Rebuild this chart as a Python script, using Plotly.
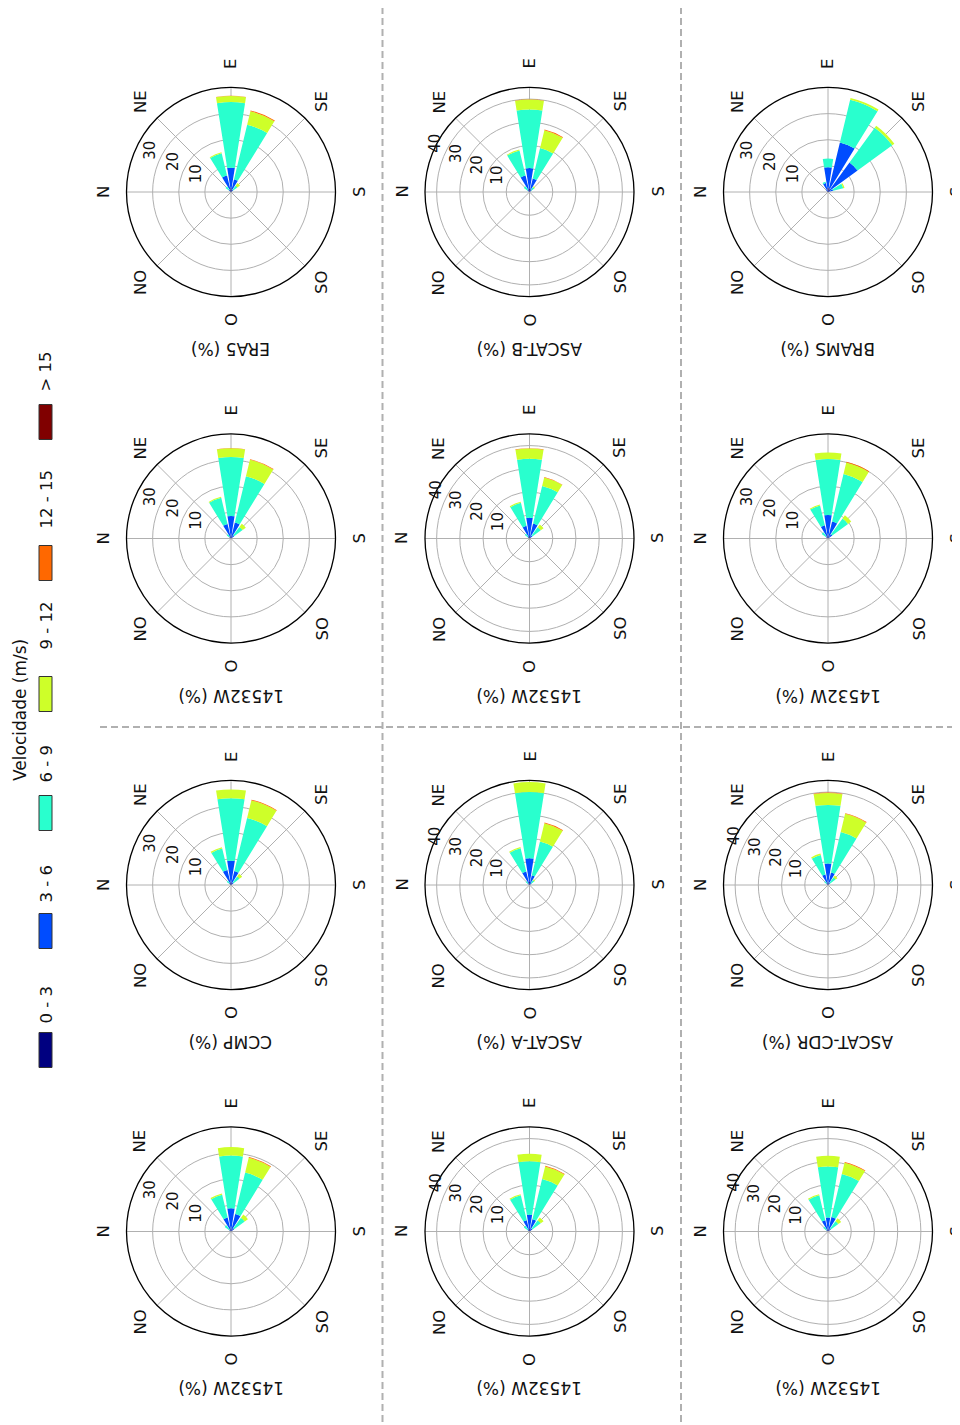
import math
import plotly.graph_objects as go

W, H = 960, 1425
PAGE_OFFSET = 8  # browser body margin

# ---------------- data ----------------
DIRECTIONS = [45, 67.5, 90, 112.5, 135, 157.5]          # NE, ENE, E, ESE, SE, SSE (degrees from N)
SPEED_BINS = ["0 - 3", "3 - 6", "6 - 9", "9 - 12", "12 - 15", "> 15"]
COLORS = ["#000080", "#004cff", "#29ffce", "#ceff29", "#ff6800", "#800000"]
COMPASS_LABELS = ["N", "NE", "E", "SE", "S", "SO", "O", "NO"]
COMPASS_BEARINGS = [0, 45, 90, 135, 180, 225, 270, 315]
LEGEND_TITLE = "Velocidade (m/s)"

# frequencies (%) per speed bin (rows) and direction (columns)
era5 = [[0.3, 1.0, 1.5, 1.0, 0.3, 0.0],
        [0.7, 5.5, 7.8, 4.0, 0.7, 0.0],
        [1.6, 8.8, 25.1, 21.5, 2.0, 0.0],
        [0.0, 0.3, 2.3, 5.3, 1.3, 0.0],
        [0.0, 0.0, 0.1, 0.3, 0.0, 0.0],
        [0.0, 0.0, 0.0, 0.0, 0.0, 0.0]]
ascat_b = [[0.3, 1.0, 1.5, 1.0, 0.3, 0.0],
           [0.7, 6.3, 8.8, 5.0, 0.7, 0.0],
           [2.0, 11.1, 25.2, 13.5, 1.5, 0.0],
           [0.0, 0.4, 4.3, 7.9, 0.5, 0.0],
           [0.0, 0.0, 0.1, 0.3, 0.0, 0.0],
           [0.0, 0.0, 0.0, 0.0, 0.0, 0.0]]
brams = [[0.3, 0.5, 1.5, 1.5, 1.0, 0.3],
         [0.5, 3.0, 8.0, 18.0, 13.0, 1.7],
         [0.0, 0.5, 3.3, 16.8, 16.4, 4.0],
         [0.0, 0.0, 0.0, 0.7, 1.0, 0.5],
         [0.0, 0.0, 0.0, 0.0, 0.0, 0.0],
         [0.0, 0.0, 0.0, 0.0, 0.0, 0.0]]
w14532_r1a = [[0.3, 0.8, 1.2, 0.8, 0.3, 0.0],
              [0.5, 4.9, 7.4, 5.5, 1.2, 0.0],
              [1.2, 10.3, 22.6, 18.2, 4.0, 0.0],
              [0.0, 0.4, 3.3, 6.5, 1.5, 0.0],
              [0.0, 0.0, 0.1, 0.2, 0.0, 0.0],
              [0.0, 0.0, 0.0, 0.0, 0.0, 0.0]]
w14532_r1b = [[0.3, 0.8, 1.2, 0.8, 0.3, 0.0],
              [0.5, 4.8, 7.7, 5.8, 1.2, 0.0],
              [1.7, 10.2, 25.4, 16.7, 4.5, 0.0],
              [0.0, 0.5, 4.4, 3.7, 1.5, 0.0],
              [0.0, 0.0, 0.2, 0.2, 0.0, 0.0],
              [0.0, 0.0, 0.0, 0.0, 0.0, 0.0]]
w14532_r1c = [[0.3, 0.8, 1.2, 0.8, 0.3, 0.0],
              [0.7, 4.4, 7.8, 5.9, 1.7, 0.0],
              [2.0, 7.8, 21.4, 18.7, 7.5, 0.0],
              [0.0, 0.4, 2.5, 4.5, 1.5, 0.0],
              [0.0, 0.0, 0.0, 0.3, 0.0, 0.0],
              [0.0, 0.0, 0.0, 0.0, 0.0, 0.0]]
ccmp = [[0.3, 0.8, 1.2, 0.8, 0.3, 0.0],
        [0.5, 5.1, 8.1, 4.7, 0.9, 0.0],
        [1.2, 8.5, 23.9, 20.9, 2.8, 0.0],
        [0.0, 0.5, 3.4, 6.9, 1.3, 0.0],
        [0.0, 0.0, 0.0, 0.3, 0.0, 0.0],
        [0.0, 0.0, 0.0, 0.0, 0.0, 0.0]]
ascat_a = [[0.3, 0.8, 1.5, 0.8, 0.3, 0.0],
           [0.5, 5.2, 10.0, 3.5, 0.7, 0.0],
           [1.2, 10.3, 28.5, 15.0, 1.5, 0.0],
           [0.0, 0.5, 4.3, 8.1, 0.5, 0.0],
           [0.0, 0.0, 0.0, 0.3, 0.0, 0.0],
           [0.0, 0.0, 0.0, 0.0, 0.0, 0.0]]
ascat_cdr = [[0.3, 0.8, 1.2, 0.8, 0.3, 0.0],
             [0.5, 3.9, 8.1, 4.7, 0.7, 0.0],
             [1.2, 8.6, 25.2, 18.0, 3.0, 0.0],
             [0.0, 0.6, 5.1, 8.0, 1.0, 0.0],
             [0.0, 0.0, 0.2, 0.3, 0.0, 0.0],
             [0.0, 0.0, 0.0, 0.0, 0.0, 0.0]]
w14532_r3a = [[0.3, 0.8, 1.2, 0.8, 0.3, 0.0],
              [0.5, 4.7, 7.7, 6.1, 1.2, 0.0],
              [2.2, 9.0, 20.2, 16.3, 5.0, 0.0],
              [0.0, 0.5, 3.2, 5.8, 1.5, 0.0],
              [0.0, 0.0, 0.0, 0.3, 0.0, 0.0],
              [0.0, 0.0, 0.0, 0.0, 0.0, 0.0]]
w14532_r3b = [[0.3, 0.8, 1.2, 0.8, 0.3, 0.0],
              [0.5, 4.2, 6.0, 4.6, 1.2, 0.0],
              [2.2, 11.0, 23.0, 17.8, 4.5, 0.0],
              [0.0, 0.5, 3.3, 5.6, 1.5, 0.0],
              [0.0, 0.0, 0.0, 0.3, 0.0, 0.0],
              [0.0, 0.0, 0.0, 0.0, 0.0, 0.0]]
w14532_r3c = [[0.3, 0.8, 1.2, 0.8, 0.3, 0.0],
              [0.5, 4.2, 4.8, 5.6, 1.2, 0.0],
              [1.7, 11.0, 22.0, 19.1, 4.0, 0.0],
              [0.0, 0.5, 4.6, 5.0, 1.5, 0.0],
              [0.0, 0.0, 0.0, 0.3, 0.0, 0.0],
              [0.0, 0.0, 0.0, 0.0, 0.0, 0.0]]

PANEL_TITLES = [["ERA5 (%)", "ASCAT-B (%)", "BRAMS (%)"],
                ["14532W (%)", "14532W (%)", "14532W (%)"],
                ["CCMP (%)", "ASCAT-A (%)", "ASCAT-CDR (%)"],
                ["14532W (%)", "14532W (%)", "14532W (%)"]]
PANEL_DATA = [[era5, ascat_b, brams],
              [w14532_r1a, w14532_r1b, w14532_r1c],
              [ccmp, ascat_a, ascat_cdr],
              [w14532_r3a, w14532_r3b, w14532_r3c]]
PANEL_RMAX = [[40, 45, 40],
              [40, 45, 40],
              [40, 45, 45],
              [40, 45, 45]]

# ---------------- layout geometry (page pixels) ----------------
COL_X = [231, 529.5, 828]
ROW_Y = [192, 538.5, 885, 1231.5]
R = 104.5
FONT = "DejaVu Sans"
TXT = "#111111"


def px(x):
    return (x - PAGE_OFFSET) / W


def py(y):
    return 1 - (y - PAGE_OFFSET) / H


fig = go.Figure()
annotations = []
shapes = []
polar_layouts = {}

k = 0
for ri, cy in enumerate(ROW_Y):
    for ci, cx in enumerate(COL_X):
        k += 1
        pname = "polar" if k == 1 else f"polar{k}"
        data = PANEL_DATA[ri][ci]
        rmax = PANEL_RMAX[ri][ci]
        for b, (lab, col) in enumerate(zip(SPEED_BINS, COLORS)):
            fig.add_trace(go.Barpolar(
                r=data[b], theta=DIRECTIONS, width=18,
                marker=dict(color=col, line=dict(width=0)),
                name=lab, showlegend=False, subplot=pname,
            ))
        ticks = [10, 20, 30] if rmax <= 40 else [10, 20, 30, 40]
        polar_layouts[pname] = dict(
            domain=dict(x=[px(cx - R), px(cx + R)], y=[py(cy + R), py(cy - R)]),
            bgcolor="white",
            barmode="stack",
            angularaxis=dict(direction="clockwise", rotation=180,
                             tickmode="array", tickvals=COMPASS_BEARINGS,
                             showticklabels=False, ticks="",
                             showgrid=True, gridcolor="#b0b0b0", gridwidth=1,
                             showline=True, linecolor="black", linewidth=1.3),
            radialaxis=dict(range=[0, rmax], tickmode="array", tickvals=ticks,
                            showticklabels=False, ticks="", showline=False,
                            showgrid=True, gridcolor="#b0b0b0", gridwidth=1),
        )
        # compass labels
        for lab, bear in zip(COMPASS_LABELS, COMPASS_BEARINGS):
            a = math.radians(180 - bear)
            x = cx + 128 * math.cos(a)
            y = cy - 128 * math.sin(a)
            annotations.append(dict(x=px(x), y=py(y), xref="paper", yref="paper",
                                    text=lab, showarrow=False, textangle=-90,
                                    xanchor="center", yanchor="middle",
                                    font=dict(family=FONT, size=16.5, color=TXT)))
        # radial tick labels
        scale = R / rmax
        a = math.radians(152.5)
        for t in ticks:
            d = t * scale + 13
            annotations.append(dict(x=px(cx + d * math.cos(a)), y=py(cy - d * math.sin(a)),
                                    xref="paper", yref="paper", text=str(t),
                                    showarrow=False, textangle=-90,
                                    xanchor="center", yanchor="middle",
                                    font=dict(family=FONT, size=15, color=TXT)))
        # panel title
        annotations.append(dict(x=px(cx), y=py(cy + 157), xref="paper", yref="paper",
                                text=PANEL_TITLES[ri][ci], showarrow=False, textangle=180,
                                xanchor="center", yanchor="middle",
                                font=dict(family=FONT, size=17, color=TXT)))

# ---------------- legend ----------------
LEG_BOX_Y = [1050, 931, 813, 694, 563, 422]
LEG_TEXT_Y = [1005, 884, 764, 626, 500, 372]
for lab, col, by, ty in zip(SPEED_BINS, COLORS, LEG_BOX_Y, LEG_TEXT_Y):
    shapes.append(dict(type="rect", xref="paper", yref="paper",
                       x0=px(39), x1=px(52), y0=py(by + 17.5), y1=py(by - 17.5),
                       fillcolor=col, line=dict(color="#333333", width=1)))
    annotations.append(dict(x=px(45.5), y=py(ty), xref="paper", yref="paper",
                            text=lab, showarrow=False, textangle=-90,
                            xanchor="center", yanchor="middle",
                            font=dict(family=FONT, size=16.5, color=TXT)))
annotations.append(dict(x=px(20), y=py(710), xref="paper", yref="paper",
                        text=LEGEND_TITLE, showarrow=False, textangle=-90,
                        xanchor="center", yanchor="middle",
                        font=dict(family=FONT, size=17, color=TXT)))

# ---------------- separators ----------------
DASH = "7px,4px"
for xs in (382.5, 681):
    shapes.append(dict(type="line", xref="paper", yref="paper",
                       x0=px(xs), x1=px(xs), y0=0, y1=1,
                       line=dict(color="#b0b0b0", width=2, dash=DASH)))
shapes.append(dict(type="line", xref="paper", yref="paper",
                   x0=px(100), x1=1, y0=py(727), y1=py(727),
                   line=dict(color="#b0b0b0", width=2, dash=DASH)))

fig.update_layout(
    width=W, height=H, autosize=False,
    margin=dict(l=0, r=0, t=0, b=0),
    paper_bgcolor="white", plot_bgcolor="white",
    showlegend=False,
    annotations=annotations, shapes=shapes,
    **polar_layouts,
)

fig.write_html("out.html")
